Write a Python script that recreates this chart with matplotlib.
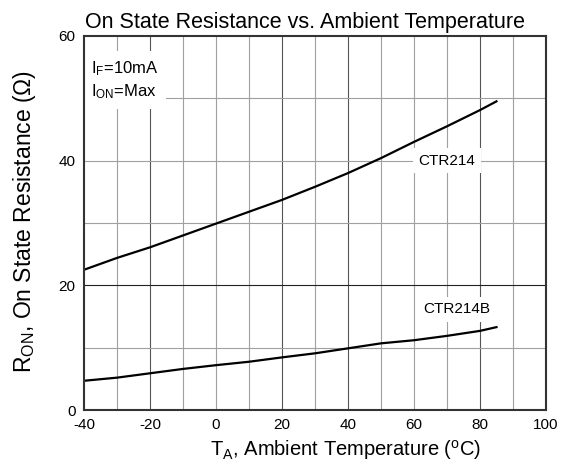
import numpy as np
import matplotlib
matplotlib.use("Agg")
import matplotlib.pyplot as plt

plt.rcParams["font.family"] = ["Liberation Sans", "DejaVu Sans"]
plt.rcParams["mathtext.fontset"] = "custom"
plt.rcParams["mathtext.rm"] = "Liberation Sans"
plt.rcParams["mathtext.it"] = "Liberation Sans"
plt.rcParams["axes.unicode_minus"] = False

# values
temp = [-40, -30, -20, -10, 0, 10, 20, 30, 40, 50, 60, 70, 80, 85]
r_ctr214 = [22.5, 24.4, 26.1, 28.0, 29.9, 31.8, 33.7, 35.8, 38.0, 40.4, 43.0, 45.5, 48.1, 49.5]
r_ctr214b = [4.7, 5.2, 5.9, 6.6, 7.2, 7.75, 8.45, 9.1, 9.9, 10.7, 11.2, 11.9, 12.7, 13.3]
x_ticks = [-40, -20, 0, 20, 40, 60, 80, 100]
y_ticks = [0, 20, 40, 60]

fig = plt.figure(figsize=(5.64, 4.66), dpi=100)
ax = fig.add_axes([0.149, 0.120, 0.819, 0.803])

# grid every 10 units
for gx in range(-30, 100, 10):
    col = "#555555" if gx in (-20, 20, 40, 80) else "#a0a0a0"
    ax.axvline(gx, color=col, lw=0.8, zorder=1)
for gy in range(10, 60, 10):
    col = "#222222" if gy == 20 else "#a0a0a0"
    ax.axhline(gy, color=col, lw=0.8, zorder=1)

ax.plot(temp, r_ctr214, color="black", lw=1.6, zorder=3)
ax.plot(temp, r_ctr214b, color="black", lw=1.6, zorder=3)

box = dict(facecolor="white", edgecolor="none", pad=4)
ax.text(70, 40, "CTR214", fontsize=11, ha="center", va="center", bbox=box, zorder=4)
ax.text(73, 16.2, "CTR214B", fontsize=11, ha="center", va="center", bbox=box, zorder=4)
ax.text(-38, 52.9, "I$_{\\rm F}$=10mA\nI$_{\\rm ON}$=Max", fontsize=12, ha="left",
        va="center", linespacing=1.3, bbox=dict(facecolor="white", edgecolor="none", pad=6), zorder=4)

ax.set_xlim(-40, 100)
ax.set_ylim(0, 60)
ax.set_xticks(x_ticks)
ax.set_yticks(y_ticks)
ax.tick_params(length=0, labelsize=11, pad=6)
for s in ax.spines.values():
    s.set_linewidth(1.5)
    s.set_color("#333333")
    s.set_zorder(5)

ax.set_title("On State Resistance vs. Ambient Temperature", fontsize=15.5, pad=6, x=0.478)
ax.set_xlabel("T$_{\\rm A}$, Ambient Temperature ($^{\\rm o}$C)", fontsize=14.5)
ax.set_ylabel("R$_{\\rm ON}$, On State Resistance (Ω)", fontsize=16.5)
ax.xaxis.set_label_coords(0.565, -0.075)
ax.yaxis.set_label_coords(-0.10, 0.505)

fig.savefig("out.png", dpi=100)
